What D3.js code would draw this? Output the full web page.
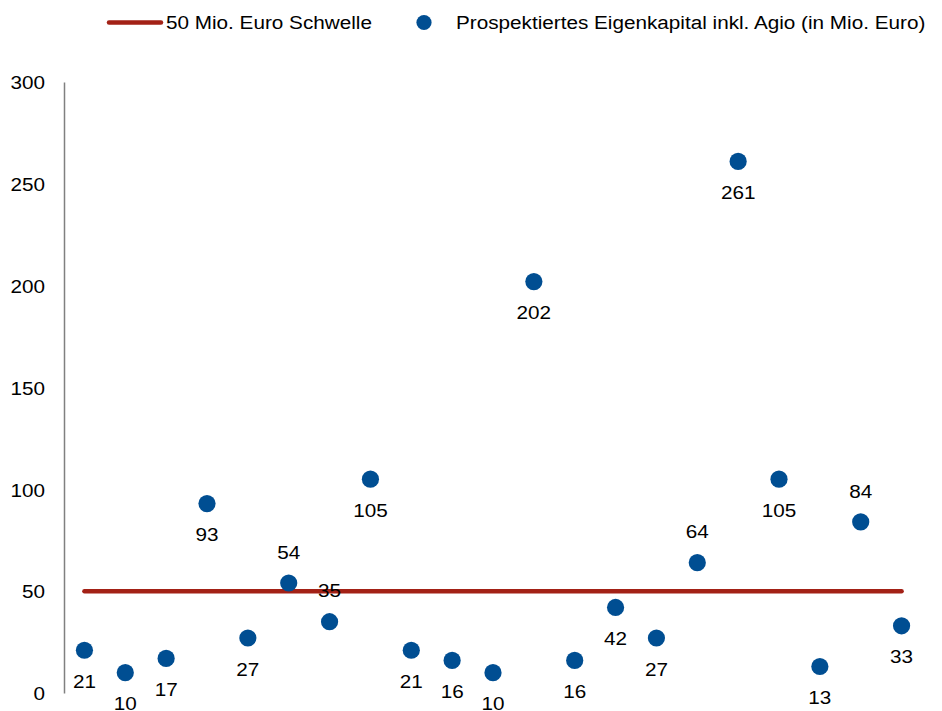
<!DOCTYPE html>
<html><head><meta charset="utf-8">
<script src="https://cdn.jsdelivr.net/npm/d3@7"></script>
<style>
html,body{margin:0;padding:0;background:#fff;}
svg{display:block;font-family:"Liberation Sans",Arial,sans-serif;}
</style></head>
<body>
<svg id="chart" width="942" height="711"></svg>
<script>
const categories = d3.range(1, 22).map(String);
const values = [21, 10, 17, 93, 27, 54, 35, 105, 21, 16, 10, 202, 16, 42, 27, 64, 261, 105, 13, 84, 33];
const labelAbove = [false,false,false,false,false,true,true,false,false,false,false,false,false,false,false,true,false,false,false,true,false];
const threshold = 50;
const yTicks = [0, 50, 100, 150, 200, 250, 300];
const legendLabels = ["50 Mio. Euro Schwelle", "Prospektiertes Eigenkapital inkl. Agio (in Mio. Euro)"];

const RED = "#A32116", BLUE = "#004E92";
const FS = 19, SX = 1.09;
const svg = d3.select("#chart");

const x = d3.scaleBand().domain(categories).range([64, 922]);
const y = d3.scaleLinear().domain([0, 300]).range([693, 82]);
const cx = c => x(c) + x.bandwidth() / 2;

function txt(g, px, py, s, anchor) {
  g.append("g").attr("transform", `translate(${px},${py}) scale(${SX},1)`)
    .append("text").attr("text-anchor", anchor).attr("dominant-baseline", "central")
    .attr("font-size", FS).attr("fill", "#000").text(s);
}

// y axis
const yAxis = d3.axisLeft(y).tickValues(yTicks).tickSize(0).tickPadding(19);
const ga = svg.append("g").attr("transform", "translate(64,0)").call(yAxis);
ga.select(".domain").attr("stroke", "#808080").attr("stroke-width", 1.5);
ga.selectAll(".tick text").remove();
ga.selectAll(".tick").each(function(d) {
  txt(d3.select(this), -19, 0, String(d), "end");
});

// threshold line
svg.append("line")
  .attr("x1", cx(categories[0])).attr("x2", cx(categories[categories.length - 1]))
  .attr("y1", y(threshold)).attr("y2", y(threshold))
  .attr("stroke", RED).attr("stroke-width", 4.5).attr("stroke-linecap", "round");

// points
svg.append("g").selectAll("circle").data(values).join("circle")
  .attr("cx", (d, i) => cx(categories[i])).attr("cy", d => y(d))
  .attr("r", 8.6).attr("fill", BLUE);

// labels
const gl = svg.append("g");
values.forEach((d, i) => {
  txt(gl, cx(categories[i]), y(d) + (labelAbove[i] ? -31 : 31), String(d), "middle");
});

// legend
const lg = svg.append("g");
lg.append("line").attr("x1", 109).attr("x2", 161).attr("y1", 22.5).attr("y2", 22.5)
  .attr("stroke", RED).attr("stroke-width", 4.5).attr("stroke-linecap", "round");
txt(lg, 166, 22.5, legendLabels[0], "start");
lg.append("circle").attr("cx", 424).attr("cy", 22.5).attr("r", 7.6).attr("fill", BLUE);
txt(lg, 456, 22.5, legendLabels[1], "start");
</script>
</body></html>
